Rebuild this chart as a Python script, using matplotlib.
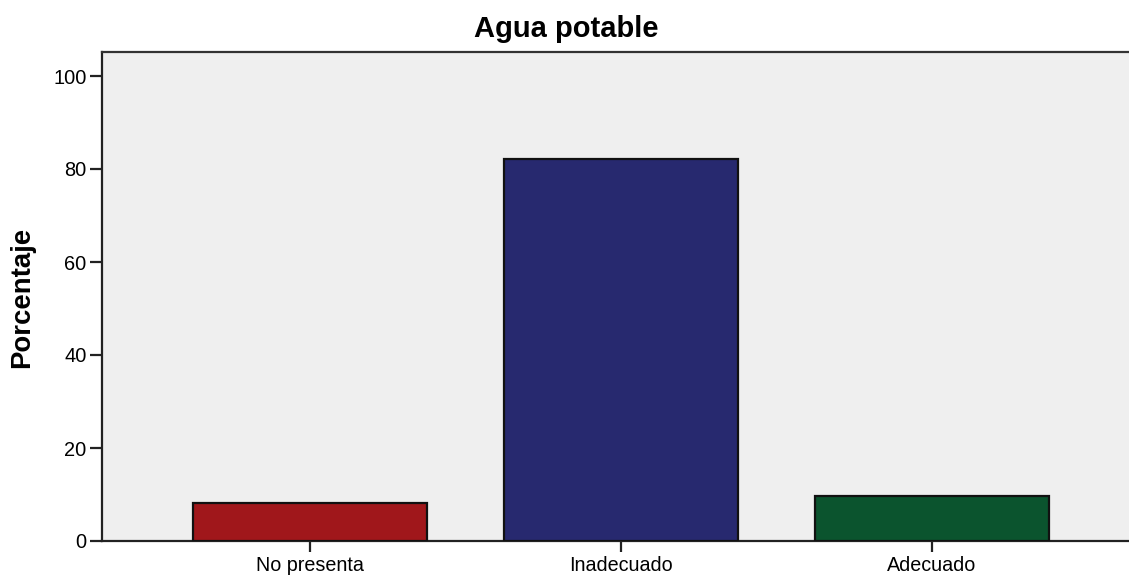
import matplotlib
matplotlib.use("Agg")
import matplotlib.pyplot as plt

categories = ["No presenta", "Inadecuado", "Adecuado"]
values = [8.2, 82.2, 9.6]
colors = ["#A0171B", "#27296F", "#0B542E"]
yticks = [0, 20, 40, 60, 80, 100]

W, H = 1129, 576
fig = plt.figure(figsize=(W / 100, H / 100), dpi=100)
plt.rcParams['font.family'] = ['Liberation Sans', 'DejaVu Sans']

left_px, right_px, top_px, bottom_px = 102, 1140, 51.5, 541
ax = fig.add_axes([left_px / W, 1 - bottom_px / H, (right_px - left_px) / W, (bottom_px - top_px) / H])
ax.set_facecolor("#EFEFEF")

x = list(range(len(categories)))
ax.bar(x, values, width=0.75, color=colors, edgecolor="#111111", linewidth=1.6, zorder=3)

ax.set_xlim((left_px - 310) / 311, (right_px - 310) / 311)
ax.set_ylim(0, 100 + (76 - top_px) / 4.65)
ax.set_yticks(yticks)
ax.set_yticklabels([str(v) for v in yticks])
ax.set_xticks(x)
ax.set_xticklabels(categories)

ax.tick_params(axis='y', direction='out', length=9, width=1.6, color="#222222", pad=2, labelsize=14.4)
ax.tick_params(axis='x', direction='out', length=8, width=1.6, color="#222222", pad=3, labelsize=14.2)

for s in ax.spines.values():
    s.set_linewidth(1.6)
    s.set_color("#222222")
ax.spines['top'].set_color("#333333")

fig.text(566 / W, 1 - 37 / H, "Agua potable", ha='center', va='baseline', fontsize=21, fontweight='bold')
fig.text(22 / W, 1 - 297 / H, "Porcentaje", ha='center', va='center', rotation=90, fontsize=19.8, fontweight='bold')

fig.savefig("out.png", dpi=100)
